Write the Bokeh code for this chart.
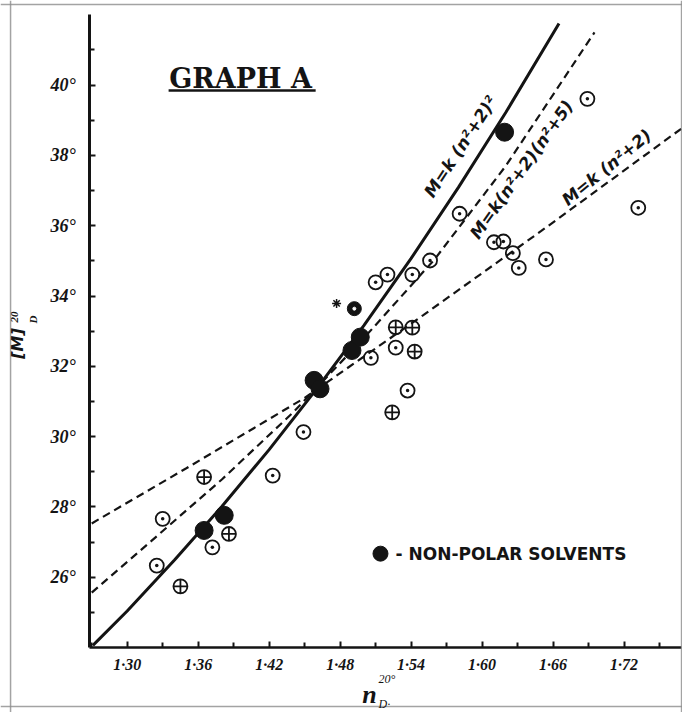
from bokeh.plotting import figure
from bokeh.models import Range1d, FixedTicker, Label, Span
from bokeh.core.properties import value
from bokeh.embed import file_html
from bokeh.resources import INLINE

# ---------------- data ----------------
# non-polar solvents (filled dots)
nonpolar_n = [1.365, 1.382, 1.458, 1.463, 1.490, 1.497, 1.619]
nonpolar_m = [27.33, 27.76, 31.60, 31.36, 32.45, 32.83, 38.66]
# filled dot with a small mark, and the asterisk beside it
marked_n = [1.492]
marked_m = [33.64]
star_n = [1.477]
star_m = [33.79]
# circle-with-cross points
cross_n = [1.345, 1.365, 1.386, 1.524, 1.527, 1.541, 1.543]
cross_m = [25.74, 28.85, 27.23, 30.69, 33.11, 33.10, 32.42]
# circle-with-dot points
dot_n = [1.325, 1.330, 1.372, 1.423, 1.449, 1.506, 1.510, 1.520, 1.527, 1.537,
         1.541, 1.556, 1.581, 1.610, 1.618, 1.626, 1.631, 1.654, 1.689, 1.732]
dot_m = [26.33, 27.66, 26.85, 28.89, 30.13, 32.24, 34.39, 34.61, 32.53, 31.31,
         34.61, 35.01, 36.34, 35.53, 35.55, 35.22, 34.80, 35.04, 39.61, 36.51]

# curves
sq_n = [1.271, 1.30, 1.34, 1.38, 1.42, 1.46, 1.50, 1.54, 1.58, 1.62, 1.665]
sq_m = [24.06, 25.04, 26.49, 28.01, 29.63, 31.35, 33.16, 35.07, 37.09, 39.22, 41.75]
prod_n = [1.27, 1.32, 1.38, 1.44, 1.50, 1.56, 1.62, 1.695]
prod_m = [25.56, 27.02, 28.78, 30.68, 32.80, 35.05, 37.70, 41.50]
lin_n = [1.27, 1.35, 1.45, 1.55, 1.65, 1.77]
lin_m = [27.53, 29.10, 31.10, 33.45, 35.85, 38.80]

# ticks
x_major = [1.30, 1.36, 1.42, 1.48, 1.54, 1.60, 1.66, 1.72]
x_labels = ["1·30", "1·36", "1·42", "1·48", "1·54", "1·60", "1·66", "1·72"]
x_minor = [1.27, 1.33, 1.39, 1.45, 1.51, 1.57, 1.63, 1.69, 1.75]
y_major = [26, 28, 30, 32, 34, 36, 38, 40]
y_labels = ["26°", "28°", "30°", "32°", "34°", "36°", "38°", "40°"]
y_minor = [25, 27, 29, 31, 33, 35, 37, 39, 41]

# axis extents
X_LO, X_HI = 1.2682, 1.7686
Y_LO, Y_HI = 24.0, 42.01

INK = "#141414"
EDGE = "#8c8c8c"
LETTER = "DejaVu Sans"
NUM = "Liberation Serif"

# the frame spans the whole canvas; the axes are pinned at the data origin
p = figure(width=682, height=712,
           x_range=Range1d(1.1929, 1.7694), y_range=Range1d(22.151, 42.407),
           output_backend="svg", toolbar_location=None,
           min_border=0, min_border_left=0, min_border_right=0,
           min_border_top=0, min_border_bottom=0)
p.grid.visible = False
p.outline_line_color = None
p.background_fill_color = "white"

p.xaxis.fixed_location = Y_LO
p.yaxis.fixed_location = X_LO
p.xaxis.bounds = (X_LO, X_HI)
p.yaxis.bounds = (Y_LO, Y_HI)
p.xaxis.ticker = FixedTicker(ticks=x_major, minor_ticks=x_minor)
p.yaxis.ticker = FixedTicker(ticks=y_major, minor_ticks=y_minor)
p.xaxis.major_label_overrides = dict(zip(x_major, x_labels))
p.yaxis.major_label_overrides = dict(zip(y_major, y_labels))
for ax in (p.xaxis, p.yaxis):
    ax.axis_line_color = INK
    ax.major_tick_line_color = INK
    ax.minor_tick_line_color = INK
    ax.major_tick_line_width = 2
    ax.minor_tick_line_width = 2
    ax.major_tick_in = 6
    ax.major_tick_out = 0
    ax.minor_tick_in = 5
    ax.minor_tick_out = 0
    ax.major_label_text_font = NUM
    ax.major_label_text_font_style = "bold italic"
    ax.major_label_text_color = INK
p.xaxis.axis_line_width = 2.5
p.yaxis.axis_line_width = 3
p.xaxis.major_label_text_font_size = "16px"
p.yaxis.major_label_text_font_size = "18px"
p.xaxis.major_label_standoff = 8
p.yaxis.major_label_standoff = 14

# scanned page edges
for loc, dim in [(1.2014, "height"), (1.7686, "height"),
                 (22.32, "width"), (42.29, "width")]:
    p.add_layout(Span(location=loc, dimension=dim, line_color=EDGE,
                      line_width=1.5, line_alpha=0.8))

# curves
p.line(sq_n, sq_m, line_color=INK, line_width=3)
p.line(prod_n, prod_m, line_color=INK, line_width=2.2, line_dash="8 5")
p.line(lin_n, lin_m, line_color=INK, line_width=2.2, line_dash="8 5")

# points
p.scatter(dot_n, dot_m, marker="circle_dot", size=14, line_color=INK,
          line_width=1.8, fill_color=None)
p.scatter(cross_n, cross_m, marker="circle_cross", size=14, line_color=INK,
          line_width=1.8, fill_color=None)
p.scatter(nonpolar_n, nonpolar_m, marker="circle", size=18, line_color=INK,
          fill_color=INK)
p.scatter(marked_n, marked_m, marker="circle", size=14, line_color=INK,
          fill_color=INK)
p.scatter(marked_n, marked_m, marker="circle", size=3, line_color="white",
          fill_color="white")
p.scatter(star_n, star_m, marker="asterisk", size=9, line_color=INK,
          line_width=1.5)


def note(x, y, txt, size, font, style, angle=0.0, align="center"):
    p.add_layout(Label(x=x, y=y, text=txt, angle=angle, text_align=align,
                       text_baseline="middle", text_font=font,
                       text_font_style=style, text_font_size=size,
                       text_color=INK))


# title with underline
note(1.3958, 40.19, "GRAPH A", "27px", "DejaVu Serif", "bold")
p.segment(x0=[1.3350], y0=[39.85], x1=[1.4593], y1=[39.85],
          line_color=INK, line_width=2.5)

# curve labels
note(1.5817, 38.25, "M=k (n²+2)²", "17px", LETTER, "bold italic", 0.99)
note(1.6333, 37.60, "M=k(n²+2)(n²+5)", "17px", LETTER, "bold italic", 0.955)
note(1.7052, 37.66, "M=k (n²+2)", "17px", LETTER, "bold italic", 0.684)

# legend
p.scatter([1.5141], [26.67], marker="circle", size=15, line_color=INK,
          fill_color=INK)
note(1.5268, 26.67, "- NON-POLAR SOLVENTS", "17px", LETTER, "bold",
     align="left")

# axis titles
note(1.5048, 22.663, "n", "26px", NUM, "bold italic")
note(1.5124, 23.118, "20°", "12px", NUM, "italic", align="left")
note(1.5124, 22.407, "D·", "12px", NUM, "italic", align="left")
note(1.2073, 32.649, "[M]", "16px", LETTER, "bold italic", 1.5708)
note(1.2050, 33.400, "20", "11px", NUM, "bold italic", 1.5708)
note(1.2200, 33.330, "D", "11px", NUM, "bold italic", 1.5708)

open("out.html", "w").write(file_html(p, INLINE))
